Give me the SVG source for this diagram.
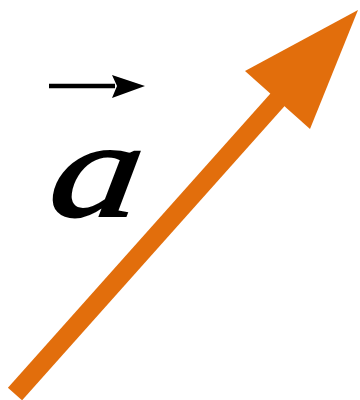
<svg xmlns="http://www.w3.org/2000/svg" width="360" height="400" viewBox="0 0 360 400">
<style>
.vec{fill:#e26e0c}
.lbl{font-family:"Liberation Serif","Times New Roman",serif;font-style:italic;fill:#000}
</style>
<rect width="360" height="400" fill="#fff"/>
<g id="vector">
<line x1="15" y1="394" x2="280" y2="97" stroke="#e26e0c" stroke-width="19"/>
<polygon class="vec" points="245,71 358,10 310,129"/>
</g>
<g id="label">
<line x1="49" y1="86" x2="115" y2="86" stroke="#000" stroke-width="4.5"/>
<polygon points="112,75 145,86 112,98 117,86" fill="#000"/>
<text class="lbl" transform="translate(46,216) skewX(-8) scale(1.4,1.06)" x="0" y="0" font-size="130" stroke="#000" stroke-width="2">a</text>
</g>
</svg>
